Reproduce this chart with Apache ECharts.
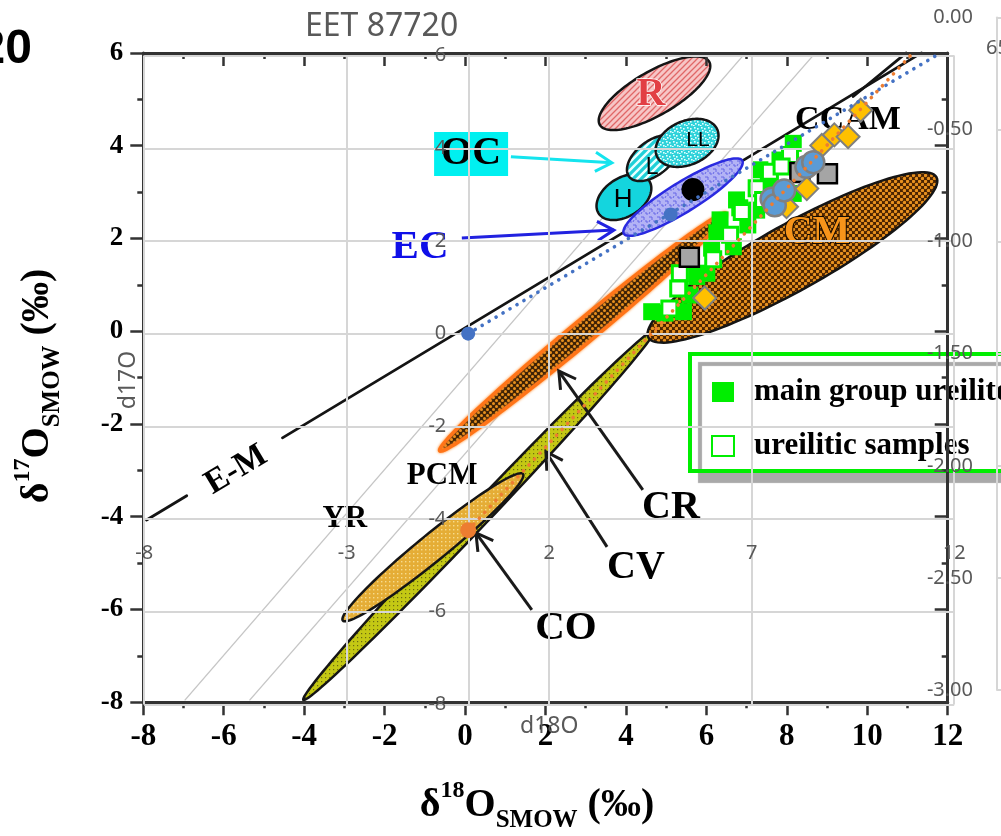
<!DOCTYPE html>
<html>
<head>
<meta charset="utf-8">
<title>EET 87720 – oxygen three-isotope plot</title>
<script src="https://cdn.jsdelivr.net/npm/echarts@6/dist/echarts.min.js"></script>
<style>
  html, body { margin: 0; padding: 0; background: #fff; }
  #chart { width: 1001px; height: 836px; }
</style>
</head>
<body>
<div id="chart"></div>
<script>
// ---------------- Base diagram: δ18O vs δ17O (‰ SMOW) ----------------

// Meteorite group fields drawn as ellipses: centre, major and minor semi-diameters (‰)
const fieldNames  = ['CV', 'CO', 'CM', 'CR', 'R', 'H', 'L', 'LL', 'EC'];
const fieldCentre = [[0.35, -3.96], [-0.80, -4.66], [8.14, 1.59], [2.93, -0.02], [4.71, 5.13],
                     [3.95, 2.89], [4.67, 3.73], [5.52, 4.06], [5.42, 2.89]];
const fieldMajor  = [[4.37, 3.99], [2.24, 1.58], [3.58, 1.73], [3.56, 2.56], [1.36, 0.68],
                     [0.63, 0.35], [0.59, 0.40], [0.75, 0.29], [1.47, 0.79]];
const fieldMinor  = [[0.19, -0.16], [0.21, -0.23], [0.40, -0.62], [0.18, -0.19], [0.27, -0.41],
                     [0.26, -0.35], [0.26, -0.29], [0.22, -0.43], [0.20, -0.27]];

// Reference lines as [x1, y1, x2, y2]
const slopeOneLines = [[-6.96, -7.95, 6.96, 5.99], [-5.35, -7.95, 8.70, 5.99]];
const blackLines    = [[-7.92, -4.07, -6.92, -3.55], [-4.54, -2.30, 11.35, 6.00], [9.65, 5.06, 10.97, 6.00]];

// Pointer arrows from group labels to their fields
const arrowNames = ['OC', 'EC', 'CR', 'CV', 'CO'];
const arrowFrom  = [[1.14, 3.76], [-0.08, 2.01], [4.42, -3.42], [3.53, -4.65], [1.66, -6.01]];
const arrowTo    = [[3.65, 3.63], [3.70, 2.18], [2.33, -0.86], [2.01, -2.60], [0.27, -4.35]];

// Group labels
const labelText = ['R', 'OC', 'LL', 'L', 'H', 'EC', 'CM', 'CCAM', 'CR', 'CV', 'CO', 'PCM', 'YR', 'E-M'];
const labelPos  = [[4.62, 5.09], [0.15, 3.82], [5.79, 4.12], [4.65, 3.52], [3.93, 2.83], [-1.12, 1.81],
                   [8.75, 2.12], [9.52, 4.55], [5.12, -3.81], [4.25, -5.11], [2.51, -6.40],
                   [-0.57, -3.12], [-2.99, -4.05], [-5.69, -2.99]];

// Ureilites
const mainGroupUreilites = [[6.75, 2.83], [6.34, 2.40], [6.26, 2.12], [6.13, 1.79], [6.67, 1.82],
  [5.76, 1.18], [5.34, 1.07], [4.64, 0.42], [5.43, 0.42], [7.33, 3.48], [7.54, 3.15], [7.83, 3.69],
  [8.16, 4.05], [8.16, 2.97], [7.25, 2.61], [6.83, 2.66], [6.01, 1.25], [5.59, 0.78], [7.03, 2.29],
  [4.97, 0.39]];
const ureiliticSamples = [[7.58, 3.44], [8.08, 3.80], [7.25, 3.08], [6.17, 1.55], [5.34, 1.25],
  [5.30, 0.92], [5.08, 0.49], [6.59, 2.08], [6.88, 2.57], [7.41, 2.83], [7.87, 3.55]];

// ---------------- EET 87720 worksheet series (d18O, d17O) ----------------
const tflPoint      = [[0, 0]];
const ccamPoint     = [[0, -4.24]];
const ecPoint       = [[5.00, 2.57]];
const eetPoint      = [[5.55, 3.11]];
const circlePoints  = [[7.49, 2.91], [7.57, 2.77], [7.80, 3.09], [8.35, 3.60], [8.52, 3.70]];
const diamondPoints = [[9.69, 4.82], [9.04, 4.29], [9.38, 4.25], [8.73, 4.06], [8.36, 3.13], [7.86, 2.74], [5.84, 0.77]];
const squarePoints  = [[8.87, 3.45], [8.19, 3.48], [5.46, 1.65]];
const tflTrend      = [[0, 0], [11.55, 6]];
const ccamTrend     = [[0, -4.24], [10.92, 6]];

// ---------------- styling helpers ----------------
const SERIF = "'Liberation Serif', 'Times New Roman', serif";
const SANS  = "'Liberation Sans', Arial, sans-serif";
const UI    = "'Noto Sans', 'Open Sans', sans-serif";
const UI_GREY = '#595959';
const GRID_GREY = '#d6d6d6';

function tile(w, h, bg, draw) {
  const c = document.createElement('canvas');
  c.width = w; c.height = h;
  const g = c.getContext('2d');
  g.fillStyle = bg; g.fillRect(0, 0, w, h);
  draw(g);
  return { image: c, repeat: 'repeat' };
}
function dots(g, color, pts, r) {
  g.fillStyle = color;
  pts.forEach(p => { g.beginPath(); g.arc(p[0], p[1], r, 0, Math.PI * 2); g.fill(); });
}
const brownDots = (bg, r) => tile(6, 6, bg, g => dots(g, '#e8911f', [[1.5, 1.5], [4.5, 4.5]], r));
const fieldFill = {
  R: tile(6, 6, '#f7c6c6', g => {
    g.strokeStyle = '#e06767'; g.lineWidth = 1.3; g.beginPath();
    g.moveTo(-1, 7); g.lineTo(7, -1); g.moveTo(-1, 1); g.lineTo(1, -1); g.moveTo(5, 7); g.lineTo(7, 5); g.stroke();
  }),
  LL: tile(7, 7, '#2fd2da', g => {
    g.fillStyle = '#e4ffff';
    [[1, 1], [4, 2], [2, 4], [5, 5], [0, 6]].forEach(p => g.fillRect(p[0], p[1], 1.6, 1.6));
  }),
  L: tile(8, 8, '#1fd0d8', g => {
    g.strokeStyle = '#eaffff'; g.lineWidth = 2.4; g.beginPath();
    g.moveTo(-2, 10); g.lineTo(10, -2); g.moveTo(-2, 2); g.lineTo(2, -2); g.moveTo(6, 10); g.lineTo(10, 6); g.stroke();
  }),
  H: '#14d5de',
  EC: tile(8, 8, '#b3b3f5', g => {
    g.strokeStyle = '#6666e6'; g.lineWidth = 1; g.beginPath();
    g.moveTo(1, 1); g.lineTo(4, 1); g.lineTo(4, 4); g.moveTo(5, 5); g.lineTo(7, 5); g.lineTo(7, 7);
    g.moveTo(1, 6); g.lineTo(2, 4); g.stroke();
  }),
  CM: brownDots('#4a2300', 1.7),
  CR: brownDots('#3e2206', 1.5),
  CV: tile(4, 4, '#c4c814', g => { g.fillStyle = '#6b6b10'; g.fillRect(1, 1, 1.2, 1.2); }),
  CO: tile(4, 4, '#e5ad36', g => { g.fillStyle = '#f7db8e'; g.fillRect(1, 1, 1.4, 1.4); })
};
const fieldStroke = { EC: '#2a2ae0', CR: '#ff7418' };
const arrowColor  = { OC: '#14e4ee', EC: '#2222e0', CR: '#1a1a1a', CV: '#1a1a1a', CO: '#1a1a1a' };

// Text styles for the group labels
const labelStyle = {
  R:    { fontSize: 40, fill: '#e23f44', stroke: '#ffffff', lineWidth: 1.5 },
  OC:   { fontSize: 40, fill: '#000', backgroundColor: '#00f0f0', padding: [3, 7, 1, 7] },
  LL:   { fontSize: 21, fontFamily: SANS, fontWeight: 'normal' },
  L:    { fontSize: 23, fontFamily: SANS, fontWeight: 'normal' },
  H:    { fontSize: 26, fontFamily: SANS, fontWeight: 'normal' },
  EC:   { fontSize: 41, fill: '#0f0fe8' },
  CM:   { fontSize: 40, fill: '#f7941a', stroke: '#140a00', lineWidth: 2 },
  CCAM: { fontSize: 34 },
  CR:   { fontSize: 40 },
  CV:   { fontSize: 40 },
  CO:   { fontSize: 41 },
  PCM:  { fontSize: 31 },
  YR:   { fontSize: 31 },
  'E-M': { fontSize: 34 }
};
const labelAngle = { 'E-M': 31 };

// ---------------- render functions ----------------
function renderField(params, api) {
  const name = fieldNames[params.dataIndex];
  const cx = api.value(0), cy = api.value(1);
  const c = api.coord([cx, cy]);
  const a = api.coord([cx + api.value(2), cy + api.value(3)]);
  const b = api.coord([cx + api.value(4), cy + api.value(5)]);
  const ax = a[0] - c[0], ay = a[1] - c[1], bx = b[0] - c[0], by = b[1] - c[1];
  const pts = [];
  for (let k = 0; k < 120; k++) {
    const t = k / 120 * Math.PI * 2;
    pts.push([c[0] + ax * Math.cos(t) + bx * Math.sin(t), c[1] + ay * Math.cos(t) + by * Math.sin(t)]);
  }
  const style = {
    fill: fieldFill[name],
    stroke: fieldStroke[name] || '#151515',
    lineWidth: name === 'CR' ? 3.5 : 2.5
  };
  if (name === 'CR') { style.shadowBlur = 3; style.shadowColor = '#ff8a2a'; }
  return { type: 'polygon', shape: { points: pts }, style };
}
function segmentRenderer(color, width) {
  return function (params, api) {
    const p1 = api.coord([api.value(0), api.value(1)]);
    const p2 = api.coord([api.value(2), api.value(3)]);
    return { type: 'line', shape: { x1: p1[0], y1: p1[1], x2: p2[0], y2: p2[1] },
             style: { stroke: color, lineWidth: width, lineCap: 'round' } };
  };
}
function renderArrow(params, api) {
  const color = arrowColor[arrowNames[params.dataIndex]];
  const p1 = api.coord([api.value(0), api.value(1)]);
  const p2 = api.coord([api.value(2), api.value(3)]);
  const dx = p2[0] - p1[0], dy = p2[1] - p1[1], len = Math.hypot(dx, dy);
  const ux = dx / len, uy = dy / len, w = 19, ang = Math.PI / 6;
  const wing = s => [p2[0] - w * (ux * Math.cos(ang) - s * uy * Math.sin(ang)),
                     p2[1] - w * (uy * Math.cos(ang) + s * ux * Math.sin(ang))];
  return { type: 'group', children: [
    { type: 'line', shape: { x1: p1[0], y1: p1[1], x2: p2[0], y2: p2[1] }, style: { stroke: color, lineWidth: 3 } },
    { type: 'polyline', shape: { points: [wing(1), p2, wing(-1)] }, style: { stroke: color, lineWidth: 3, fill: null } }
  ] };
}
function renderLabel(params, api) {
  const text = labelText[params.dataIndex];
  const p = api.coord([api.value(0), api.value(1)]);
  const style = Object.assign({
    text, fontFamily: SERIF, fontWeight: 'bold', fill: '#000',
    align: 'center', verticalAlign: 'middle'
  }, labelStyle[text]);
  return { type: 'text', x: p[0], y: p[1], rotation: (labelAngle[text] || 0) * Math.PI / 180, style };
}

const baseAxisLine = { onZero: false, lineStyle: { color: '#333', width: 3 } };
const baseTick = (inside) => ({ show: true, inside, length: 13, lineStyle: { color: '#333', width: 2.5 } });
const baseMinor = { show: true, splitNumber: 2, length: 6, lineStyle: { color: '#333', width: 2.5 } };
const baseLabel = (size, margin) => ({ margin, fontFamily: SERIF, fontWeight: 'bold', fontSize: size, color: '#000' });
const richTitle = {
  d: { fontFamily: SERIF, fontWeight: 'bold', fontSize: 40, lineHeight: 54, fill: '#000' },
  s: { fontFamily: SERIF, fontWeight: 'bold', fontSize: 24, verticalAlign: 'top', lineHeight: 54, fill: '#000' },
  b: { fontFamily: SERIF, fontWeight: 'bold', fontSize: 25, verticalAlign: 'bottom', lineHeight: 54, fill: '#000' }
};

const option = {
  animation: false,
  backgroundColor: '#ffffff',
  title: {
    text: 'EET 87720', left: 300, top: 6,
    textStyle: { fontFamily: UI, fontSize: 32, fontWeight: 'normal', color: UI_GREY }
  },
  legend: {
    data: ['main group ureilites', 'ureilitic samples'],
    orient: 'vertical', left: 690, top: 354, z: 2,
    selectedMode: false,
    icon: 'rect', itemWidth: 22, itemHeight: 20, itemGap: 20,
    padding: [21, 20, 8, 21],
    backgroundColor: '#ffffff', borderColor: '#00ee00', borderWidth: 4, borderRadius: 0,
    shadowColor: '#a9a9a9', shadowBlur: 1, shadowOffsetX: 10, shadowOffsetY: 10,
    textStyle: { fontFamily: SERIF, fontWeight: 'bold', fontSize: 31, color: '#000', lineHeight: 34, padding: [0, 0, 0, 15] }
  },
  grid: [
    { left: 143.3, right: 53.3, top: 52.9, bottom: 133.8, outerBoundsMode: 'none' },
    { left: 144.2, right: 46.8, top: 55.6, bottom: 131.6, outerBoundsMode: 'none' },
    { left: 997, right: 0, top: 17.5, bottom: 146, outerBoundsMode: 'none' }
  ],
  xAxis: [
    { gridIndex: 0, type: 'value', min: -8, max: 12, interval: 2, position: 'bottom', z: 2,
      axisLine: baseAxisLine, axisTick: baseTick(false), minorTick: baseMinor,
      axisLabel: baseLabel(31, 19), splitLine: { show: false } },
    { gridIndex: 0, type: 'value', min: -8, max: 12, interval: 2, position: 'top', z: 2,
      axisLine: baseAxisLine, axisTick: baseTick(true), minorTick: baseMinor,
      axisLabel: { show: false }, splitLine: { show: false } },
    { gridIndex: 1, type: 'value', min: -8, max: 12, interval: 5, position: 'bottom', offset: -169, z: 3,
      name: 'd18O', nameLocation: 'middle', nameGap: 180,
      nameTextStyle: { fontFamily: UI, fontSize: 23, color: UI_GREY },
      axisLine: { show: false, onZero: false }, axisTick: { show: false },
      axisLabel: { margin: 8, fontFamily: UI, fontSize: 20, color: UI_GREY },
      splitLine: { show: true, lineStyle: { color: GRID_GREY, width: 2 } } },
    { gridIndex: 2, type: 'value', min: 0, max: 1, show: false }
  ],
  yAxis: [
    { gridIndex: 0, type: 'value', min: -8, max: 6, interval: 2, position: 'left', z: 2,
      axisLine: baseAxisLine, axisTick: baseTick(false), minorTick: baseMinor,
      axisLabel: baseLabel(27, 20), splitLine: { show: false } },
    { gridIndex: 0, type: 'value', min: -8, max: 6, interval: 2, position: 'right', z: 2,
      axisLine: baseAxisLine, axisTick: baseTick(true), minorTick: baseMinor,
      axisLabel: { show: false }, splitLine: { show: false } },
    // worksheet vertical axis crosses the horizontal one at d18O = 0
    { gridIndex: 1, type: 'value', min: -8, max: 6, interval: 2, position: 'left', offset: -324.1, z: 3,
      name: 'd17O', nameLocation: 'middle', nameGap: 328, nameRotate: 90,
      nameTextStyle: { fontFamily: UI, fontSize: 23, color: UI_GREY },
      axisLine: { show: true, onZero: false, lineStyle: { color: GRID_GREY, width: 2 } },
      axisTick: { show: false },
      axisLabel: { margin: 22, fontFamily: UI, fontSize: 20, color: UI_GREY },
      splitLine: { show: true, lineStyle: { color: GRID_GREY, width: 2 } } },
    { gridIndex: 2, type: 'value', min: -3, max: 0, interval: 0.5, position: 'left', z: 3,
      axisLine: { show: true, onZero: false, lineStyle: { color: GRID_GREY, width: 2 } },
      axisTick: { show: false },
      axisLabel: { margin: 24, fontFamily: UI, fontSize: 20, color: UI_GREY, formatter: v => v.toFixed(2) },
      splitLine: { show: true, lineStyle: { color: GRID_GREY, width: 2 } } }
  ],
  graphic: [
    { type: 'text', x: 32, y: 50, z: 10,
      style: { text: '20', fontFamily: SANS, fontWeight: 'bold', fontSize: 48, fill: '#000', align: 'right', verticalAlign: 'middle' } },
    { type: 'text', x: 986, y: 38, z: 10,
      style: { text: '65', fontFamily: UI, fontSize: 20, fill: UI_GREY } },
    { type: 'text', x: 38, y: 386, rotation: Math.PI / 2, z: 10,
      style: { text: '{d|δ}{s|17}{d|O}{b|SMOW}{d| (‰)}', align: 'center', verticalAlign: 'middle', rich: richTitle } },
    { type: 'text', x: 537, y: 806, z: 10,
      style: { text: '{d|δ}{s|18}{d|O}{b|SMOW}{d| (‰)}', align: 'center', verticalAlign: 'middle', rich: richTitle } }
  ],
  series: [
    // ---- base diagram ----
    { type: 'custom', name: 'slope-1 lines', xAxisIndex: 0, yAxisIndex: 0, z: 1, silent: true,
      renderItem: segmentRenderer('#c6c6c6', 1.4), data: slopeOneLines },
    { type: 'custom', name: 'E-M line', xAxisIndex: 0, yAxisIndex: 0, z: 1, silent: true,
      renderItem: segmentRenderer('#141414', 2.8), data: blackLines },
    { type: 'custom', name: 'fields', xAxisIndex: 0, yAxisIndex: 0, z: 1, silent: true,
      renderItem: renderField,
      data: fieldNames.map((n, i) => [fieldCentre[i][0], fieldCentre[i][1], fieldMajor[i][0], fieldMajor[i][1], fieldMinor[i][0], fieldMinor[i][1]]) },
    { type: 'custom', name: 'arrows', xAxisIndex: 0, yAxisIndex: 0, z: 1, silent: true,
      renderItem: renderArrow,
      data: arrowNames.map((n, i) => [arrowFrom[i][0], arrowFrom[i][1], arrowTo[i][0], arrowTo[i][1]]) },
    { type: 'scatter', name: 'main group ureilites', xAxisIndex: 0, yAxisIndex: 0, z: 1, silent: true,
      symbol: 'rect', symbolSize: 17, itemStyle: { color: '#00ee00', opacity: 1 }, data: mainGroupUreilites },
    { type: 'scatter', name: 'ureilitic samples', xAxisIndex: 0, yAxisIndex: 0, z: 1, silent: true,
      symbol: 'rect', symbolSize: 15, itemStyle: { color: '#ffffff', borderColor: '#00ee00', borderWidth: 3, opacity: 1 },
      data: ureiliticSamples },
    { type: 'custom', name: 'group labels', xAxisIndex: 0, yAxisIndex: 0, z: 1, silent: true,
      renderItem: renderLabel, data: labelPos },

    // ---- EET 87720 worksheet ----
    { type: 'scatter', xAxisIndex: 2, yAxisIndex: 2, z: 5, silent: true,
      symbol: 'rect', symbolSize: 19, itemStyle: { color: '#a5a5a5', borderColor: '#000', borderWidth: 2.5, opacity: 1 },
      data: squarePoints },
    { type: 'scatter', xAxisIndex: 2, yAxisIndex: 2, z: 5, silent: true,
      symbol: 'diamond', symbolSize: 23, itemStyle: { color: '#ffc000', borderColor: '#7f7f7f', borderWidth: 2, opacity: 1 },
      data: diamondPoints },
    { type: 'scatter', xAxisIndex: 2, yAxisIndex: 2, z: 5, silent: true,
      symbol: 'circle', symbolSize: 22, itemStyle: { color: '#5b9bd5', borderColor: '#808080', borderWidth: 2.5, opacity: 1 },
      data: circlePoints },
    { type: 'scatter', xAxisIndex: 2, yAxisIndex: 2, z: 5, silent: true,
      symbol: 'circle', symbolSize: 14, itemStyle: { color: '#4472c4', opacity: 1 }, data: tflPoint.concat(ecPoint) },
    { type: 'scatter', xAxisIndex: 2, yAxisIndex: 2, z: 5, silent: true,
      symbol: 'circle', symbolSize: 16, itemStyle: { color: '#ed7d31', opacity: 1 }, data: ccamPoint },
    { type: 'scatter', xAxisIndex: 2, yAxisIndex: 2, z: 5, silent: true,
      symbol: 'circle', symbolSize: 23, itemStyle: { color: '#000000', opacity: 1 }, data: eetPoint },
    { type: 'line', xAxisIndex: 2, yAxisIndex: 2, z: 6, silent: true, showSymbol: false, symbol: 'none',
      lineStyle: { color: '#4472c4', width: 3.6, type: [0.1, 8], cap: 'round' }, data: tflTrend },
    { type: 'line', xAxisIndex: 2, yAxisIndex: 2, z: 6, silent: true, showSymbol: false, symbol: 'none',
      lineStyle: { color: '#ed7d31', width: 3.6, type: [0.1, 8], cap: 'round' }, data: ccamTrend }
  ]
};

const chart = echarts.init(document.getElementById('chart'), null, { renderer: 'canvas' });
chart.setOption(option);
</script>
</body>
</html>
